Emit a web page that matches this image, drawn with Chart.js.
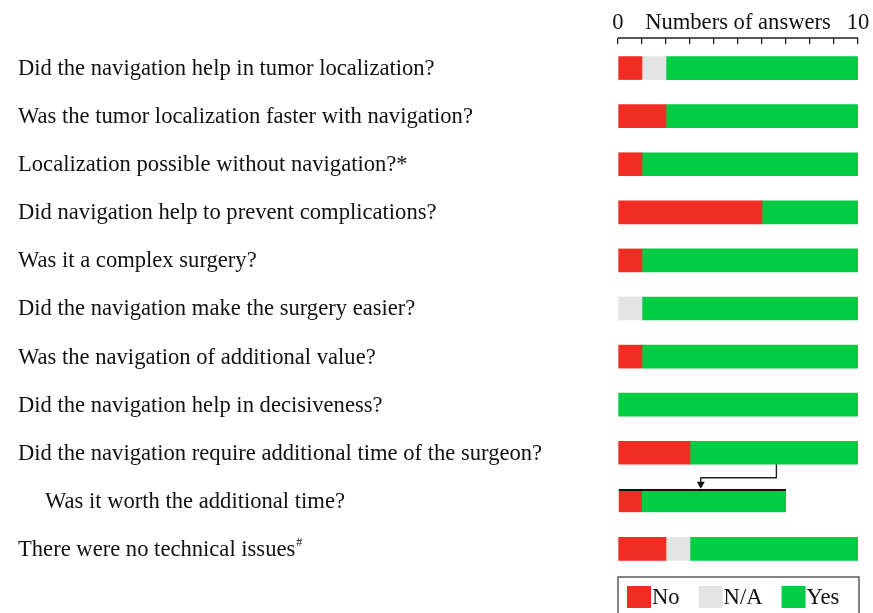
<!DOCTYPE html>
<html>
<head>
<meta charset="utf-8">
<script src="https://cdn.jsdelivr.net/npm/chart.js@4.4.1/dist/chart.umd.min.js"></script>
<style>
  html, body { margin: 0; padding: 0; background: #fff; }
</style>
</head>
<body>
<canvas id="chart" width="873" height="613"></canvas>
<script>
const questions = [
  'Did the navigation help in tumor localization?',
  'Was the tumor localization faster with navigation?',
  'Localization possible without navigation?*',
  'Did navigation help to prevent complications?',
  'Was it a complex surgery?',
  'Did the navigation make the surgery easier?',
  'Was the navigation of additional value?',
  'Did the navigation help in decisiveness?',
  'Did the navigation require additional time of the surgeon?',
  'Was it worth the additional time?',
  'There were no technical issues#'
];
const noAnswers  = [1, 2, 1, 6, 1, 0, 1, 0, 3, 1, 2];
const naAnswers  = [1, 0, 0, 0, 0, 1, 0, 0, 0, 0, 1];
const yesAnswers = [8, 8, 9, 4, 9, 9, 9, 10, 7, 6, 7];
const seriesNames = ['No', 'N/A', 'Yes'];
const axisTicks = [0, 10];
const axisTitle = 'Numbers of answers';

// the follow-up question and the one it follows from
const parentQuestion = 8;
const subQuestion = 9;

const FONT = '"Liberation Serif", "Times New Roman", serif';
const red = '#ee2e24', grey = '#e4e4e4', green = '#00cc44';
const TICK_LEN = 6, TICK_PAD = 1, FONT_SIZE = 22.6;

// zero counts are left out so they don't leave a sliver
const skipZero = arr => arr.map(v => v === 0 ? null : v);
const topBorder = c => c.dataIndex === subQuestion ? { top: 2, right: 0, bottom: 0, left: 0 } : 0;

const decorations = {
  id: 'decorations',
  afterDraw(chart) {
    const { ctx, chartArea, scales: { x, y } } = chart;
    ctx.save();

    // axis line on top of the tick marks
    const lineY = chartArea.top - TICK_LEN;
    ctx.strokeStyle = '#222';
    ctx.lineWidth = 1.3;
    ctx.beginPath();
    ctx.moveTo(x.getPixelForValue(axisTicks[0]), lineY);
    ctx.lineTo(x.getPixelForValue(axisTicks[1]), lineY);
    ctx.stroke();

    // axis title, on the same line as the 0 and 10
    ctx.font = `${FONT_SIZE}px ${FONT}`;
    ctx.fillStyle = '#111';
    ctx.textAlign = 'center';
    ctx.textBaseline = 'middle';
    ctx.fillText(axisTitle, (x.left + x.right) / 2, lineY - TICK_PAD - FONT_SIZE * 0.6);

    // question labels
    ctx.textAlign = 'left';
    questions.forEach((q, i) => {
      const py = y.getPixelForValue(i) + 1;
      const px = i === subQuestion ? 45 : 18;
      ctx.font = `${FONT_SIZE}px ${FONT}`;
      if (q.endsWith('#')) {
        const base = q.slice(0, -1);
        ctx.fillText(base, px, py);
        const w = ctx.measureText(base).width;
        ctx.font = `12px ${FONT}`;
        ctx.fillText('#', px + w + 1, py - 7);
      } else {
        ctx.fillText(q, px, py);
      }
    });

    // connector from the parent question to the follow-up
    const half = 11.5;
    const yA = y.getPixelForValue(parentQuestion);
    const yB = y.getPixelForValue(subQuestion);
    const x1 = x.getPixelForValue(6.6);
    const x2 = x.getPixelForValue(3.45);
    const yMid = (yA + yB) / 2 + 1;
    const tip = yB - half - 0.5;
    ctx.strokeStyle = '#222';
    ctx.lineWidth = 1.4;
    ctx.beginPath();
    ctx.moveTo(x1, yA + half);
    ctx.lineTo(x1, yMid);
    ctx.lineTo(x2, yMid);
    ctx.lineTo(x2, tip - 6);
    ctx.stroke();
    ctx.fillStyle = '#111';
    ctx.beginPath();
    ctx.moveTo(x2 - 4, tip - 7);
    ctx.lineTo(x2 + 4, tip - 7);
    ctx.lineTo(x2, tip);
    ctx.closePath();
    ctx.fill();

    // legend in a box under the bars
    const lTop = chartArea.bottom + 4;
    ctx.strokeStyle = '#444';
    ctx.lineWidth = 1.3;
    ctx.strokeRect(x.left, lTop, x.right - x.left + 1, chart.height - lTop + 6);
    let cx = x.left + 9;
    ctx.font = `${FONT_SIZE}px ${FONT}`;
    ctx.textBaseline = 'middle';
    chart.data.datasets.forEach(ds => {
      ctx.fillStyle = ds.backgroundColor;
      ctx.fillRect(cx, lTop + 9, 24, 22);
      ctx.fillStyle = '#111';
      ctx.fillText(ds.label, cx + 25, lTop + 21);
      cx += 25 + ctx.measureText(ds.label).width + 19;
    });

    ctx.restore();
  }
};

new Chart(document.getElementById('chart').getContext('2d'), {
  type: 'bar',
  data: {
    labels: questions,
    datasets: [
      { label: seriesNames[0], data: skipZero(noAnswers), backgroundColor: red },
      { label: seriesNames[1], data: skipZero(naAnswers), backgroundColor: grey },
      { label: seriesNames[2], data: skipZero(yesAnswers), backgroundColor: green }
    ]
  },
  options: {
    responsive: false,
    animation: false,
    devicePixelRatio: 1,
    indexAxis: 'y',
    layout: { padding: { left: 618, right: 15, top: 0, bottom: 40 } },
    datasets: {
      bar: {
        barThickness: 23,
        borderColor: '#111',
        borderWidth: topBorder
      }
    },
    scales: {
      x: {
        position: 'top',
        min: 0,
        max: 10,
        stacked: true,
        afterFit(s) { s.height = 44; },
        grid: { drawOnChartArea: false, drawTicks: true, tickLength: TICK_LEN, color: '#222', lineWidth: 1.3 },
        border: { display: false },
        ticks: {
          stepSize: 1,
          autoSkip: false,
          maxRotation: 0,
          padding: TICK_PAD,
          color: '#111',
          font: { family: FONT, size: FONT_SIZE },
          callback: v => axisTicks.includes(v) ? String(v) : ''
        }
      },
      y: { stacked: true, display: false }
    },
    plugins: {
      legend: { display: false },
      tooltip: { enabled: false }
    }
  },
  plugins: [decorations]
});
</script>
</body>
</html>
